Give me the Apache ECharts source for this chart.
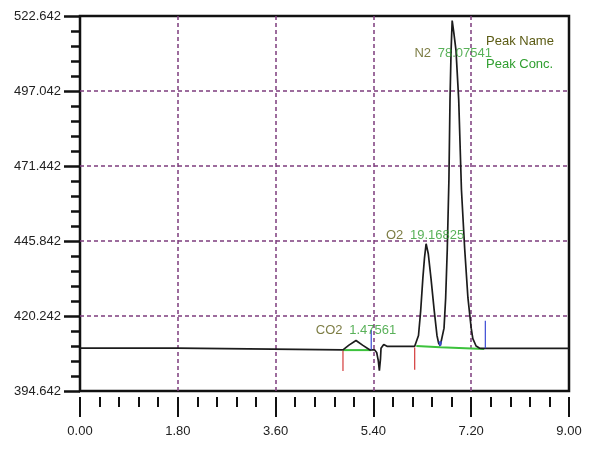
<!DOCTYPE html>
<html>
<head>
<meta charset="utf-8">
<style>
  html, body { margin: 0; padding: 0; background: #fff; }
  #chart { width: 589px; height: 451px; }
</style>
<script src="https://cdn.jsdelivr.net/npm/echarts@6/dist/echarts.min.js"></script>
</head>
<body>
<div id="chart"></div>
<script>
// axis ranges
var timeMin = 0, timeMax = 9, timeStep = 1.8;
var yMin = 394.642, yMax = 522.642, yStep = 25.6;

// detector trace [min, signal]
var signal = [
  [0.00, 409.3], [1.79, 409.3], [1.82, 408.7], [4.84, 408.7],
  [4.95, 410.3], [5.08, 411.9], [5.20, 410.3], [5.33, 408.7],
  [5.42, 408.7], [5.46, 407.8], [5.49, 405.0], [5.51, 401.6], [5.53, 405.5],
  [5.54, 409.2], [5.59, 410.5], [5.65, 409.9], [6.16, 409.9],
  [6.19, 410.1], [6.23, 413.6], [6.27, 422.0], [6.31, 433.1], [6.34, 440.0],
  [6.37, 444.9], [6.41, 441.5], [6.46, 433.1], [6.52, 422.0], [6.57, 413.6],
  [6.60, 411.0], [6.63, 410.1], [6.66, 410.6], [6.70, 416.1], [6.73, 426.4],
  [6.76, 443.2], [6.79, 466.8], [6.81, 494.1], [6.83, 510.9], [6.85, 521.1],
  [6.88, 517.0], [6.92, 510.9], [6.97, 494.1], [7.02, 463.5], [7.08, 443.2],
  [7.14, 426.4], [7.20, 416.1], [7.23, 412.5], [7.29, 410.0], [7.35, 409.3],
  [7.41, 409.2], [9.00, 409.2]
];

// peak table
var peakNames = ['CO2', 'O2', 'N2'];
var peakConc = ['1.47561', '19.16825', '78.07541'];
var peakApex = [[5.08, 411.9], [6.37, 444.9], [6.85, 521.1]];

// integration marks: [time, from, to]
var startMarks = [[4.84, 408.4, 401.5], [6.16, 409.5, 401.9]];
var endMarks = [[5.36, 408.7, 415.5], [7.46, 409.2, 418.6]];
var valleyMark = [[6.61, 411.6], [6.63, 410.1], [6.65, 411.6]];
var baselines = [
  [[4.84, 408.6], [5.36, 408.6]],
  [[6.19, 410.0], [6.63, 409.6], [7.44, 409.0]]
];

var olive = '#5b5b14';
var green = '#2f9e2f';
var labelOffsets = [[0, -10], [-1, -8], [1, 33]];

var series = [];

series.push({
  type: 'line',
  data: signal,
  showSymbol: false,
  symbol: 'none',
  lineStyle: { color: '#1c1c1c', width: 1.7 },
  z: 5
});

baselines.forEach(function(seg) {
  series.push({
    type: 'line', data: seg, symbol: 'none',
    lineStyle: { color: '#3cc23c', width: 2 }, z: 4
  });
});

startMarks.forEach(function(m) {
  series.push({
    type: 'line', data: [[m[0], m[1]], [m[0], m[2]]], symbol: 'none',
    lineStyle: { color: '#d43a3a', width: 1.2 }, z: 6
  });
});

endMarks.forEach(function(m) {
  series.push({
    type: 'line', data: [[m[0], m[1]], [m[0], m[2]]], symbol: 'none',
    lineStyle: { color: '#3a4ad4', width: 1.2 }, z: 6
  });
});

series.push({
  type: 'line', data: valleyMark, symbol: 'none',
  lineStyle: { color: '#3a4ad4', width: 1.5 }, z: 6
});

series.push({
  type: 'scatter',
  symbolSize: 0,
  z: 7,
  data: peakApex.map(function(p, i) {
    return {
      value: p,
      label: {
        show: true,
        position: 'inside',
        offset: labelOffsets[i],
        formatter: '{n|' + peakNames[i] + '}  {c|' + peakConc[i] + '}',
        rich: {
          n: { color: olive, fontSize: 13, fontFamily: 'Liberation Sans' },
          c: { color: green, fontSize: 13, fontFamily: 'Liberation Sans' }
        }
      }
    };
  })
});

var gridDash = { color: '#7d3c7d', width: 1.5, type: [4, 3] };

var option = {
  animation: false,
  backgroundColor: '#fff',
  grid: {
    left: 80, right: 20, top: 16, bottom: 60,
    show: true, borderColor: '#111', borderWidth: 2.5, backgroundColor: '#fff'
  },
  xAxis: {
    type: 'value',
    min: timeMin, max: timeMax, interval: timeStep,
    offset: 6,
    axisLine: { show: false },
    axisTick: { show: true, length: 20, lineStyle: { color: '#111', width: 2 } },
    minorTick: { show: true, splitNumber: 5, length: 10, lineStyle: { color: '#111', width: 2 } },
    axisLabel: {
      margin: 28, color: '#222', fontSize: 13, fontFamily: 'Liberation Sans',
      formatter: function(v) { return v.toFixed(2); }
    },
    splitLine: { show: true, showMinLine: false, showMaxLine: false, lineStyle: gridDash }
  },
  yAxis: {
    type: 'value',
    min: yMin, max: yMax, interval: yStep,
    offset: 2,
    axisLine: { show: false },
    axisTick: { show: true, length: 16, lineStyle: { color: '#111', width: 2.5 } },
    minorTick: { show: true, splitNumber: 5, length: 9, lineStyle: { color: '#111', width: 2.5 } },
    axisLabel: {
      margin: 17, color: '#222', fontSize: 13, fontFamily: 'Liberation Sans',
      formatter: function(v) { return v.toFixed(3); }
    },
    splitLine: { show: true, showMinLine: false, showMaxLine: false, lineStyle: gridDash }
  },
  graphic: [
    { type: 'text', left: 486, top: 35,
      style: { text: 'Peak Name', fill: olive, fontSize: 13, fontFamily: 'Liberation Sans' } },
    { type: 'text', left: 486, top: 58,
      style: { text: 'Peak Conc.', fill: green, fontSize: 13, fontFamily: 'Liberation Sans' } }
  ],
  series: series
};

var chart = echarts.init(document.getElementById('chart'));
chart.setOption(option);
window.addEventListener('resize', function() {
  chart.resize();
});
</script>
</body>
</html>
